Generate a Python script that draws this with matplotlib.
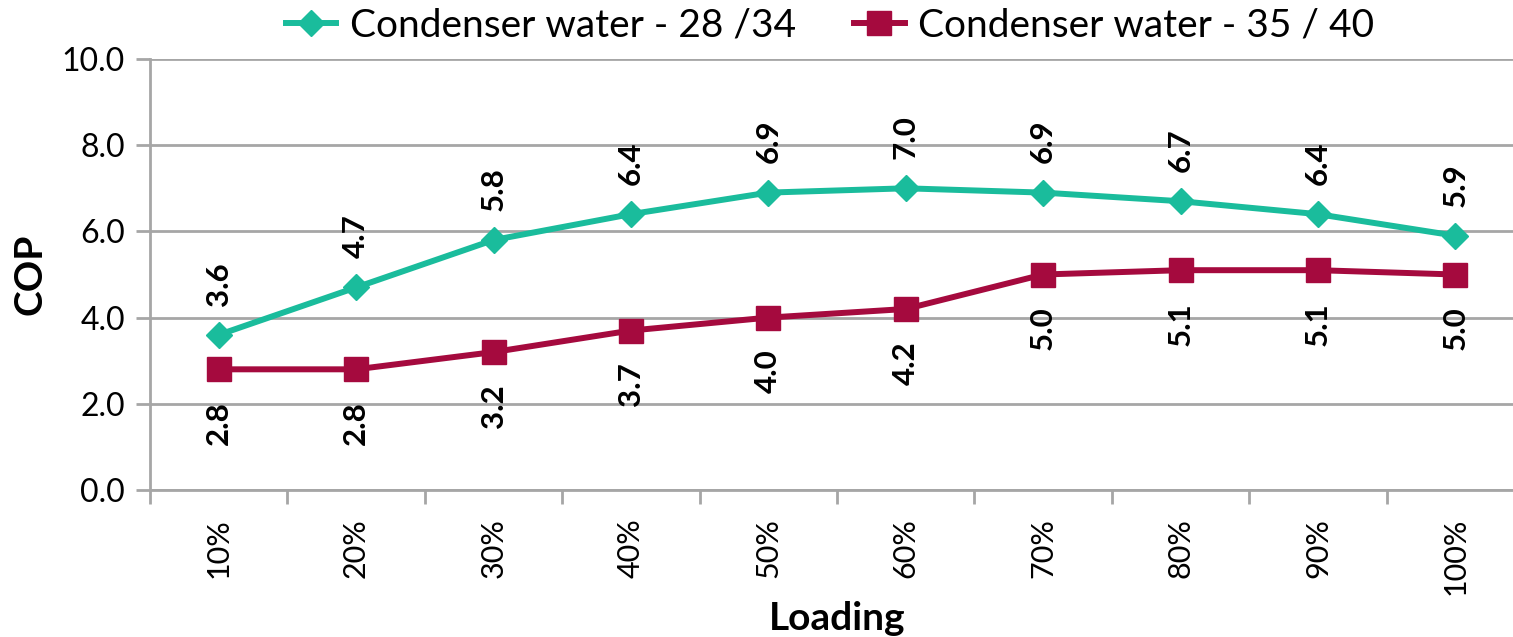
import matplotlib
matplotlib.use("Agg")
import matplotlib.pyplot as plt
from matplotlib.ticker import FixedLocator, NullFormatter

plt.rcParams['font.family'] = ['Lato', 'DejaVu Sans']

loading = ['10%', '20%', '30%', '40%', '50%', '60%', '70%', '80%', '90%', '100%']
cop_28_34 = [3.6, 4.7, 5.8, 6.4, 6.9, 7.0, 6.9, 6.7, 6.4, 5.9]
cop_35_40 = [2.8, 2.8, 3.2, 3.7, 4.0, 4.2, 5.0, 5.1, 5.1, 5.0]
series_names = ['Condenser water - 28 /34', 'Condenser water - 35 / 40']

teal = '#1ABC9C'
crimson = '#A50A3E'
grid_grey = '#A6A6A6'

W, H = 1513, 637
fig = plt.figure(figsize=(W / 100, H / 100), dpi=100)
ax = fig.add_axes([150 / W, 1 - 490 / H, 1374 / W, 431 / H])

x = list(range(len(loading)))
ax.plot(x, cop_28_34, color=teal, lw=4.3, marker='D', ms=13,
        label=series_names[0], solid_joinstyle='round', zorder=3)
ax.plot(x, cop_35_40, color=crimson, lw=4.3, marker='s', ms=17,
        label=series_names[1], solid_joinstyle='round', zorder=3)

for xi, v in zip(x, cop_28_34):
    ax.annotate(f'{v:.1f}', (xi, v), xytext=(0, 21), textcoords='offset points',
                rotation=90, ha='center', va='bottom', fontsize=22.5,
                fontweight='bold', zorder=4)
for xi, v in zip(x, cop_35_40):
    ax.annotate(f'{v:.1f}', (xi, v), xytext=(0, -23), textcoords='offset points',
                rotation=90, ha='center', va='top', fontsize=22.5,
                fontweight='bold', zorder=4)

ax.set_xlim(-0.5, len(loading) - 0.5)
ax.set_ylim(0, 10)
ax.set_yticks([0, 2, 4, 6, 8, 10])
ax.set_yticklabels([f'{t:.1f}' for t in [0, 2, 4, 6, 8, 10]], fontsize=23)
ax.yaxis.grid(True, color=grid_grey, lw=2)
ax.set_axisbelow(True)

# category labels centred, tick marks on category boundaries
ax.set_xticks(x)
ax.set_xticklabels(loading, rotation=90, fontsize=22)
ax.tick_params(axis='x', which='major', length=0, pad=20)
ax.xaxis.set_minor_locator(FixedLocator([i - 0.5 for i in range(len(loading) + 1)]))
ax.xaxis.set_minor_formatter(NullFormatter())
ax.tick_params(axis='x', which='minor', length=10, width=2, color=grid_grey)
ax.tick_params(axis='y', length=10, width=2, color=grid_grey, pad=8)

for s in ['top', 'right']:
    ax.spines[s].set_visible(False)
for s in ['left', 'bottom']:
    ax.spines[s].set_color(grid_grey)
    ax.spines[s].set_linewidth(2)

ax.set_ylabel('COP', fontsize=28, fontweight='bold', labelpad=10)
ax.set_xlabel('Loading', fontsize=28, fontweight='bold', labelpad=4)

fig.legend(loc='upper center', bbox_to_anchor=(830 / W, 1.012), ncol=2,
           frameon=False, fontsize=28, handlelength=1.3, handletextpad=0.35,
           columnspacing=1.5, borderaxespad=0.0)

fig.savefig('out.png', dpi=100)
